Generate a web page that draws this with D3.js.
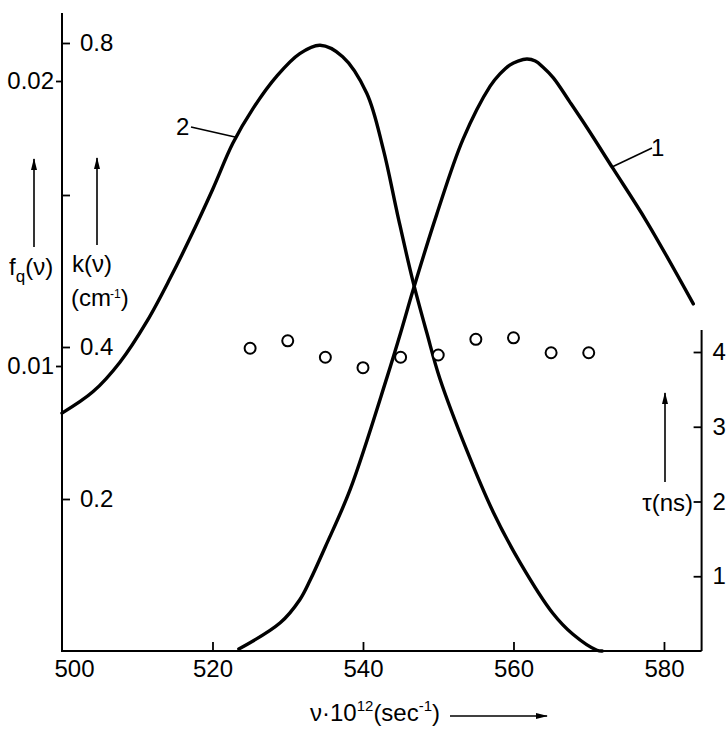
<!DOCTYPE html>
<html>
<head>
<meta charset="utf-8">
<style>
body { margin: 0; background: #fff; }
svg { font-family: "Liberation Sans", Arial, sans-serif; }
.curve { fill: none; stroke: #000; stroke-width: 3.4; stroke-linecap: round; }
.axis-line { stroke: #000; stroke-width: 2; }
.axis text { font-size: 24px; font-family: "Liberation Sans", Arial, sans-serif; fill: #000; }
.axis line { stroke: #000; stroke-width: 1.8; }
.lbl { font-size: 24px; fill: #000; }
.lead { stroke: #000; stroke-width: 1.6; }
.dot { fill: #fff; stroke: #000; stroke-width: 2; }
</style>
</head>
<body>
<svg width="727" height="729"></svg>
<script src="https://d3js.org/d3.v7.min.js"></script>
<script>

// curve 2 : absorption k(nu)
var curve2Freq = [500.0, 504.1, 507.7, 511.3, 514.4, 517.0, 520.0, 522.7, 525.4, 528.6, 531.6, 534.3,
                  537.3, 540.5, 542.7, 544.6, 546.6, 548.5, 550.2, 553.8, 557.3, 560.9, 565.2, 567.9, 571.1, 571.8];
var curve2K = [0.313, 0.341, 0.380, 0.434, 0.491, 0.543, 0.607, 0.668, 0.714, 0.757, 0.786, 0.797,
               0.782, 0.734, 0.660, 0.574, 0.488, 0.418, 0.359, 0.264, 0.183, 0.116, 0.050, 0.022, 0.001, 0.0];

// curve 1 : fluorescence f_q(nu)
var curve1Freq = [523.5, 529.0, 531.6, 533.0, 535.0, 538.3, 543.2, 545.2, 546.6, 549.8, 553.3,
                  556.9, 558.2, 559.5, 560.6, 561.8, 562.9, 563.9, 565.3, 567.5, 569.8, 573.2, 577.7, 583.9];
var curve1F = [0.00007, 0.00099, 0.0018, 0.0025, 0.00366, 0.00567, 0.00961, 0.01134, 0.01261, 0.01532, 0.01796,
               0.01982, 0.02025, 0.02056, 0.0207, 0.02077, 0.0207, 0.02049, 0.02011, 0.01926, 0.01835, 0.01694, 0.01507, 0.01218];

// lifetimes tau (ns)
var tauFreq = [525, 530, 535, 540, 545, 550, 555, 560, 565, 570];
var tauVals = [4.05, 4.15, 3.93, 3.79, 3.93, 3.96, 4.17, 4.19, 3.99, 3.99];

var xTicks = [500, 520, 540, 560, 580];
var kTicks = [0.2, 0.4, 0.6, 0.8];
var kTickLabels = ["0.2", "0.4", "", "0.8"];
var fTicks = [0.01, 0.02];
var fTickLabels = ["0.01", "0.02"];
var tauTicks = [1, 2, 3, 4];

var svg = d3.select("svg");

var x = d3.scaleLinear().domain([500, 585]).range([62, 701.6]);
var k = d3.scaleLinear().domain([0, 0.8]).range([651, 43]);
var f = d3.scaleLinear().domain([0, 0.02]).range([651, 81]);
var tau = d3.scaleLinear().domain([0, 4]).range([651, 352]);

var defs = svg.append("defs");
defs.append("marker")
  .attr("id", "arr")
  .attr("viewBox", "0 -4 12 8")
  .attr("refX", 11).attr("refY", 0)
  .attr("markerUnits", "userSpaceOnUse")
  .attr("markerWidth", 14).attr("markerHeight", 8)
  .attr("orient", "auto")
  .append("path").attr("d", "M0,-3L12,0L0,3Z").attr("fill", "#000");

// axis lines
svg.append("line").attr("class", "axis-line")
  .attr("x1", x(500)).attr("x2", x(500)).attr("y1", k(0)).attr("y2", 13);
svg.append("line").attr("class", "axis-line")
  .attr("x1", x(500) - 1).attr("x2", x(585)).attr("y1", k(0)).attr("y2", k(0));
svg.append("line").attr("class", "axis-line")
  .attr("x1", x(585)).attr("x2", x(585)).attr("y1", k(0)).attr("y2", 330);

// bottom axis, ticks pointing up
var gx = svg.append("g").attr("class", "axis")
  .attr("transform", "translate(0," + k(0) + ")")
  .call(d3.axisBottom(x).tickValues(xTicks).tickSize(-9).tickSizeOuter(0).tickPadding(9).tickFormat(d3.format("d")));
gx.select(".domain").remove();
gx.selectAll(".tick").filter(function(d) { return d === 500; }).select("line").remove();
gx.selectAll(".tick").filter(function(d) { return d === 500; }).select("text").attr("dx", 12);

// k axis (right side of the left line)
var gk = svg.append("g").attr("class", "axis")
  .attr("transform", "translate(" + x(500) + ",0)")
  .call(d3.axisRight(k).tickValues(kTicks).tickSize(8).tickPadding(10)
    .tickFormat(function(d, i) { return kTickLabels[i]; }));
gk.select(".domain").remove();

// f axis (left side of the left line)
var gf = svg.append("g").attr("class", "axis")
  .attr("transform", "translate(" + x(500) + ",0)")
  .call(d3.axisLeft(f).tickValues(fTicks).tickSize(6).tickPadding(2)
    .tickFormat(function(d, i) { return fTickLabels[i]; }));
gf.select(".domain").remove();

// tau axis on the right, ticks inward, labels outside
var gt = svg.append("g").attr("class", "axis")
  .attr("transform", "translate(" + x(585) + ",0)")
  .call(d3.axisRight(tau).tickValues(tauTicks).tickSize(-8).tickPadding(11).tickFormat(d3.format("d")));
gt.select(".domain").remove();

// curves
var line2 = d3.line().curve(d3.curveCatmullRom.alpha(0.5))
  .x(function(d, i) { return x(curve2Freq[i]); })
  .y(function(d) { return k(d); });
svg.append("path").attr("class", "curve").attr("d", line2(curve2K));

var line1 = d3.line().curve(d3.curveCatmullRom.alpha(0.5))
  .x(function(d, i) { return x(curve1Freq[i]); })
  .y(function(d) { return f(d); });
svg.append("path").attr("class", "curve").attr("d", line1(curve1F));

// lifetime points
svg.selectAll(".dot").data(tauVals).enter().append("circle")
  .attr("class", "dot")
  .attr("cx", function(d, i) { return x(tauFreq[i]); })
  .attr("cy", function(d) { return tau(d); })
  .attr("r", 5.5);

// curve labels
svg.append("text").attr("class", "lbl").attr("x", 176).attr("y", 135).text("2");
svg.append("line").attr("class", "lead").attr("x1", 191).attr("y1", 127).attr("x2", 235).attr("y2", 137);
svg.append("text").attr("class", "lbl").attr("x", 651).attr("y", 156).text("1");
svg.append("line").attr("class", "lead").attr("x1", 612).attr("y1", 167).attr("x2", 652).attr("y2", 148);

// f_q(nu) title
var tf = svg.append("text").attr("class", "lbl").attr("x", 9).attr("y", 275);
tf.append("tspan").text("f");
tf.append("tspan").attr("font-size", 17).attr("dy", 7).text("q");
tf.append("tspan").attr("dy", -7).text("(ν)");
svg.append("line").attr("class", "lead").attr("x1", 34).attr("y1", 247).attr("x2", 34).attr("y2", 159)
  .attr("marker-end", "url(#arr)");

// k(nu) title
svg.append("text").attr("class", "lbl").attr("x", 72).attr("y", 272).text("k(ν)");
var tc = svg.append("text").attr("class", "lbl").attr("x", 71).attr("y", 306);
tc.append("tspan").text("(cm");
tc.append("tspan").attr("font-size", 12).attr("dx", -1).attr("dy", -8).text("-1");
tc.append("tspan").attr("dy", 8).text(")");
svg.append("line").attr("class", "lead").attr("x1", 97).attr("y1", 245).attr("x2", 97).attr("y2", 158)
  .attr("marker-end", "url(#arr)");

// tau title
svg.append("text").attr("class", "lbl").attr("x", 693).attr("y", 511).attr("text-anchor", "end").text("τ(ns)");
svg.append("line").attr("class", "lead").attr("x1", 665).attr("y1", 482).attr("x2", 665).attr("y2", 393)
  .attr("marker-end", "url(#arr)");

// x title
var tx = svg.append("text").attr("class", "lbl").attr("x", 310).attr("y", 721);
tx.append("tspan").text("ν·10");
tx.append("tspan").attr("font-size", 15).attr("dy", -10).text("12");
tx.append("tspan").attr("dy", 10).text("(sec");
tx.append("tspan").attr("font-size", 15).attr("dy", -10).text("-1");
tx.append("tspan").attr("dy", 10).text(")");
svg.append("line").attr("class", "lead").attr("x1", 450).attr("y1", 716).attr("x2", 547).attr("y2", 716)
  .attr("marker-end", "url(#arr)");

</script>
</body>
</html>
